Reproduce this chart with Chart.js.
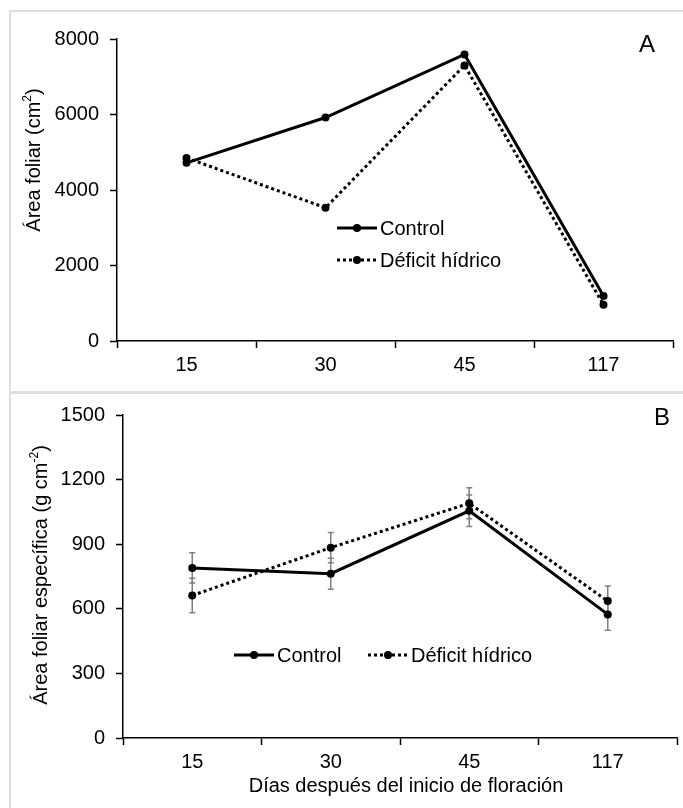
<!DOCTYPE html>
<html>
<head>
<meta charset="utf-8">
<script src="https://cdn.jsdelivr.net/npm/chart.js@4.4.1/dist/chart.umd.min.js"></script>
<style>
  html, body { margin: 0; padding: 0; background: #fff; }
  body { width: 683px; height: 808px; position: relative; overflow: hidden; }
  .frame { position: absolute; border: 2px solid #dedede; box-sizing: border-box; }
  .wrap { position: absolute; left: 0; width: 683px; }
  #wrapA { top: 0; height: 392px; }
  #wrapB { top: 392px; height: 416px; }
</style>
</head>
<body>
<div class="frame" style="left:9px; top:10px; width:700px; height:384px;"></div>
<div class="frame" style="left:9px; top:391px; width:700px; height:500px;"></div>
<div class="wrap" id="wrapA"><canvas id="chartA"></canvas></div>
<div class="wrap" id="wrapB"><canvas id="chartB"></canvas></div>
<script>
// Days after the start of flowering
const days = ['15', '30', '45', '117'];
const seriesNames = ['Control', 'Déficit hídrico'];

// A: leaf area (cm²)
const areaControl = [4720, 5920, 7590, 1190];
const areaDeficit = [4850, 3530, 7300, 960];
const areaTicks = [0, 2000, 4000, 6000, 8000];

// B: specific leaf area (g cm⁻²) with standard errors
const salControl = [790, 763, 1055, 574];
const salDeficit = [662, 884, 1090, 636];
const salControlErr = [70, 72, 73, 74];
const salDeficitErr = [80, 70, 72, 70];
const salTicks = [0, 300, 600, 900, 1200, 1500];

const FONT = '"Liberation Sans", Arial, Helvetica, sans-serif';

// Vertical error bars with caps, taken from per-dataset error arrays
const errorBarsPlugin = {
  id: 'errorBars',
  beforeDatasetsDraw(chart, args, opts) {
    if (!opts || !opts.errors) return;
    const ctx = chart.ctx;
    const y = chart.scales.y;
    ctx.save();
    ctx.strokeStyle = opts.color || '#7f7f7f';
    ctx.lineWidth = opts.width || 1.5;
    opts.errors.forEach((errs, di) => {
      if (!errs) return;
      const meta = chart.getDatasetMeta(di);
      const vals = chart.data.datasets[di].data;
      meta.data.forEach((pt, i) => {
        const x = pt.x;
        const top = y.getPixelForValue(vals[i] + errs[i]);
        const bot = y.getPixelForValue(vals[i] - errs[i]);
        const c = opts.cap || 3;
        ctx.beginPath();
        ctx.moveTo(x, top); ctx.lineTo(x, bot);
        ctx.moveTo(x - c, top); ctx.lineTo(x + c, top);
        ctx.moveTo(x - c, bot); ctx.lineTo(x + c, bot);
        ctx.stroke();
      });
    });
    ctx.restore();
  }
};

// Series key: line sample with a marker in the middle, then the series name
const seriesKeyPlugin = {
  id: 'seriesKey',
  afterDraw(chart, args, opts) {
    if (!opts || !opts.items) return;
    const ctx = chart.ctx;
    ctx.save();
    chart.data.datasets.forEach((ds, i) => {
      const it = opts.items[i];
      if (!it) return;
      const len = it.len || 40;
      ctx.strokeStyle = ds.borderColor;
      ctx.lineWidth = ds.borderWidth;
      ctx.setLineDash(ds.borderDash || []);
      ctx.beginPath();
      ctx.moveTo(it.x, it.y);
      ctx.lineTo(it.x + len, it.y);
      ctx.stroke();
      ctx.setLineDash([]);
      ctx.fillStyle = ds.pointBackgroundColor;
      ctx.beginPath();
      ctx.arc(it.x + len / 2, it.y, ds.pointRadius, 0, Math.PI * 2);
      ctx.fill();
      ctx.fillStyle = '#000';
      ctx.font = '20px ' + FONT;
      ctx.textBaseline = 'middle';
      ctx.textAlign = 'left';
      ctx.fillText(ds.label, it.x + len + 3, it.y + 1);
    });
    ctx.restore();
  }
};

// Free text: axis titles (with superscripts) and the panel letter
const panelTextPlugin = {
  id: 'panelText',
  afterDraw(chart, args, opts) {
    if (!opts || !opts.items) return;
    const ctx = chart.ctx;
    opts.items.forEach(item => {
      const size = item.size || 20;
      const supSize = Math.round(size * 0.62);
      let total = 0;
      const widths = item.parts.map(p => {
        ctx.font = (p.sup ? supSize : size) + 'px ' + FONT;
        const w = ctx.measureText(p.t).width;
        total += w;
        return w;
      });
      ctx.save();
      ctx.translate(item.x, item.y);
      ctx.rotate((item.rotation || 0) * Math.PI / 180);
      ctx.fillStyle = '#000';
      ctx.textBaseline = 'middle';
      ctx.textAlign = 'left';
      let x = -total / 2;
      item.parts.forEach((p, i) => {
        ctx.font = (p.sup ? supSize : size) + 'px ' + FONT;
        ctx.fillText(p.t, x, p.sup ? -size * 0.3 : 0);
        x += widths[i];
      });
      ctx.restore();
    });
  }
};

function makePanel(id, cfg) {
  const axisLine = { color: '#000', width: 1.5 };
  return new Chart(document.getElementById(id), {
    type: 'line',
    data: {
      labels: days,
      datasets: [
        {
          label: seriesNames[0], data: cfg.control,
          borderColor: '#000', borderWidth: 3, tension: 0,
          pointRadius: 4, pointBackgroundColor: '#000', pointBorderWidth: 0
        },
        {
          label: seriesNames[1], data: cfg.deficit,
          borderColor: '#000', borderWidth: 3, borderDash: [3, 3], tension: 0,
          pointRadius: 4, pointBackgroundColor: '#000', pointBorderWidth: 0
        }
      ]
    },
    plugins: [errorBarsPlugin, seriesKeyPlugin, panelTextPlugin],
    options: {
      responsive: true,
      maintainAspectRatio: false,
      animation: false,
      layout: { padding: cfg.padding },
      plugins: {
        legend: { display: false },
        tooltip: { enabled: false },
        errorBars: { errors: cfg.errors, color: '#808080', width: 1.5, cap: 3 },
        seriesKey: { items: cfg.key },
        panelText: { items: cfg.texts }
      },
      scales: {
        x: {
          type: 'category',
          offset: true,
          border: axisLine,
          grid: { offset: true, drawOnChartArea: false, tickLength: 7, tickColor: '#000', tickWidth: 1.5 },
          ticks: { color: '#000', font: { family: FONT, size: 20 }, padding: 5, maxRotation: 0 },
          afterFit(s) { s.height = cfg.xHeight; }
        },
        y: {
          min: cfg.yTicks[0],
          max: cfg.yTicks[cfg.yTicks.length - 1],
          afterBuildTicks(s) { s.ticks = cfg.yTicks.map(v => ({ value: v })); },
          border: axisLine,
          grid: { drawOnChartArea: false, tickLength: 7, tickColor: '#000', tickWidth: 1.5 },
          ticks: {
            color: '#000', font: { family: FONT, size: 20 }, padding: 11,
            callback: v => String(v)
          },
          afterFit(s) { s.width = cfg.yWidth; }
        }
      }
    }
  });
}

makePanel('chartA', {
  control: areaControl,
  deficit: areaDeficit,
  yTicks: areaTicks,
  errors: null,
  padding: { top: 39, right: 10, left: 0, bottom: 0 },
  yWidth: 117,
  xHeight: 51,
  key: [{ x: 337, y: 228 }, { x: 337, y: 260 }],
  texts: [
    { parts: [{ t: 'Área foliar (cm' }, { t: '2', sup: true }, { t: ')' }], x: 34, y: 160, rotation: -90 },
    { parts: [{ t: 'A' }], x: 647, y: 45, size: 24 }
  ]
});

makePanel('chartB', {
  control: salControl,
  deficit: salDeficit,
  yTicks: salTicks,
  errors: [salControlErr, salDeficitErr],
  padding: { top: 20, right: 6, left: 0, bottom: 0 },
  yWidth: 123,
  xHeight: 70,
  key: [{ x: 234, y: 263 }, { x: 368, y: 263 }],
  texts: [
    { parts: [{ t: 'Área foliar específica (g cm' }, { t: '-2', sup: true }, { t: ')' }], x: 41, y: 183, rotation: -90 },
    { parts: [{ t: 'Días después del inicio de floración' }], x: 406, y: 394 },
    { parts: [{ t: 'B' }], x: 662, y: 26, size: 24 }
  ]
});
</script>
</body>
</html>
